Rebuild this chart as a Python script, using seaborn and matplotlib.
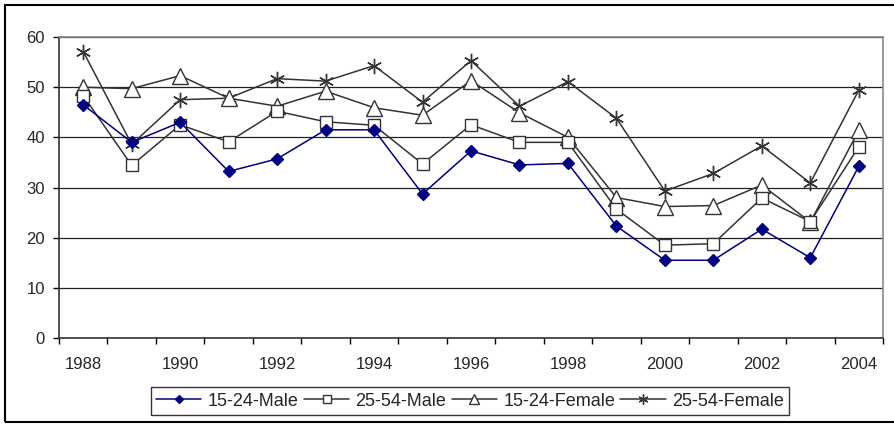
import numpy as np
import pandas as pd
import seaborn as sns
import matplotlib.pyplot as plt
from matplotlib.patches import Rectangle
from matplotlib.lines import Line2D

years = list(range(1988, 2005))
male_15_24 = [46.5, 39.0, 43.0, 33.2, 35.7, 41.5, 41.5, 28.7, 37.3, 34.5, 34.8, 22.3, 15.5, 15.5, 21.7, 16.0, 34.2]
male_25_54 = [48.3, 34.4, 42.5, 39.1, 45.2, 43.1, 42.4, 34.7, 42.5, 39.0, 39.0, 25.7, 18.5, 18.8, 27.9, 23.2, 38.1]
female_15_24 = [50.0, 49.7, 52.3, 47.8, 46.2, 49.2, 45.9, 44.4, 51.3, 44.9, 40.0, 28.0, 26.2, 26.4, 30.5, 23.1, 41.4]
female_25_54 = [57.1, 38.6, 47.5, 47.8, 51.7, 51.2, 54.3, 47.0, 55.3, 46.2, 51.1, 43.8, 29.3, 32.8, 38.3, 30.9, 49.4]
series_names = ['15-24-Male', '25-54-Male', '15-24-Female', '25-54-Female']

sns.set_style("white")
plt.rcParams['font.family'] = ['Liberation Sans', 'DejaVu Sans']

df = pd.DataFrame({'year': years,
                   '15-24-Male': male_15_24,
                   '25-54-Male': male_25_54,
                   '15-24-Female': female_15_24,
                   '25-54-Female': female_25_54})
long = df.melt(id_vars='year', var_name='series', value_name='value')

fig = plt.figure(figsize=(8.95, 4.24), dpi=100)
ax = fig.add_axes([59/895, 1-338/424, (883-59)/895, (338-37)/424])

styles = {
    '15-24-Male': dict(color='#000080', marker='D', markersize=6, markerfacecolor='#000080', markeredgecolor='#000080'),
    '25-54-Male': dict(color='#333333', marker='s', markersize=8, markerfacecolor='white', markeredgecolor='#333333'),
    '15-24-Female': dict(color='#333333', marker='^', markersize=11, markerfacecolor='white', markeredgecolor='#333333'),
    '25-54-Female': dict(color='#333333', marker=(6, 2, 0), markersize=11, markeredgecolor='#333333'),
}
# draw in reverse so blue is on top
for name in series_names[::-1]:
    sub = long[long['series'] == name]
    st = styles[name]
    sns.lineplot(data=sub, x='year', y='value', ax=ax, color=st['color'], linewidth=1.1,
                 marker=st['marker'], markersize=st['markersize'],
                 markerfacecolor=st.get('markerfacecolor', st['color']),
                 markeredgecolor=st['markeredgecolor'], markeredgewidth=1.0,
                 label=name, legend=False)

ax.set_xlim(1987.5, 2004.5)
ax.set_ylim(0, 60)
ax.set_yticks(range(0, 61, 10))
ax.set_xticks(range(1988, 2005, 2))
ax.set_xticks(np.arange(1987.5, 2005, 1), minor=True)
ax.tick_params(axis='x', which='major', length=0, pad=14, labelsize=12)
ax.tick_params(axis='x', which='minor', length=4, width=1, direction='out', color='black', bottom=True)
ax.tick_params(axis='y', length=4, width=1, direction='out', color='black', left=True, labelsize=12, pad=6)
ax.set_xlabel('')
ax.set_ylabel('')
ax.yaxis.grid(True, color='#222222', linewidth=0.9)
ax.set_axisbelow(True)
for s in ['top', 'right']:
    ax.spines[s].set_visible(True)
    ax.spines[s].set_color('#888888')
    ax.spines[s].set_linewidth(1.2)
for s in ['left', 'bottom']:
    ax.spines[s].set_color('#333333')
    ax.spines[s].set_linewidth(1.2)

handles = []
for name in series_names:
    st = styles[name]
    ms = st['markersize'] * 0.65
    handles.append(Line2D([], [], color=st['color'], marker=st['marker'], markersize=ms,
                          markerfacecolor=st.get('markerfacecolor', st['color']),
                          markeredgecolor=st['markeredgecolor'], linewidth=1.1))
leg = fig.legend(handles, series_names, loc='center', bbox_to_anchor=(470/895, 1-401/424),
                 ncol=4, frameon=True, fancybox=False, fontsize=13, handlelength=2.5,
                 handletextpad=0.35, columnspacing=0.3, borderpad=0.3, borderaxespad=0,
                 edgecolor='black')
leg.get_frame().set_linewidth(1.0)

fig.patches.append(Rectangle((5/895, 1-422/424), 1.0, 417/424, transform=fig.transFigure,
                             fill=False, edgecolor='black', linewidth=1.5))

fig.savefig('out.png', dpi=100)
